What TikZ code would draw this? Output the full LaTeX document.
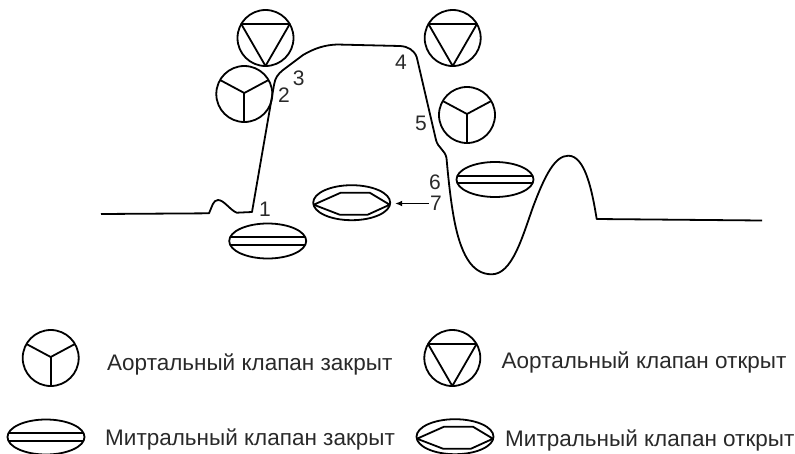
\documentclass[tikz,border=0pt]{standalone}
\usepackage{fontspec}
\setmainfont{Liberation Sans}
\usetikzlibrary{shapes.geometric,arrows.meta}
\definecolor{txt}{gray}{0.16}
\tikzset{
  x=1pt,y=-1pt,
  line/.style={line width=1.8pt,black,line join=round},
  disc/.style={circle,draw,line width=1.8pt,minimum size=56pt,inner sep=0pt,outer sep=0pt},
  oval/.style={ellipse,draw,line width=1.8pt,minimum width=77pt,minimum height=35pt,inner sep=0pt,outer sep=0pt},
  lab/.style={text=txt,font=\fontsize{21}{23}\selectfont,inner sep=0pt,anchor=center},
  leg/.style={text=txt,font=\fontsize{22.5}{25}\selectfont,inner sep=0pt,anchor=base west},
  aclosed/.pic={
    \node[disc] (-c) at (0,0) {};
    \coordinate (-m) at (0,-1);
    \draw[line] (-m) -- (-c.270);
    \draw[line] (-m) -- (-c.30);
    \draw[line] (-m) -- (-c.150);
  },
  aopen/.pic={
    \node[disc] (-c) at (0,0) {};
    \draw[line] (-c.30) -- (-c.150) -- (-c.270) -- cycle;
  },
  mclosed/.pic={
    \node[oval] (-c) at (0,0) {};
    \draw[line] (-37.6,-3.7) -- (37.6,-3.7);
    \draw[line] (-37.6,3.7) -- (37.6,3.7);
  },
  mopen/.pic={
    \node[oval] (-c) at (0,0) {};
    \draw[line] (-38,2) -- (-11,-10) -- (18,-10) -- (38,2) -- (16,12) -- (-12,12) -- cycle;
  }
}
\begin{document}
\begin{tikzpicture}
\useasboundingbox (0,0) rectangle (795,453);
% valves on the curve
\pic (a1) at (265.5,38) {aopen};
\pic (a2) at (244.3,94) {aclosed};
\pic (a3) at (452.7,38) {aopen};
\pic (a4) at (467,115) {aclosed};
\pic (m1) at (267.7,241) {mclosed};
\pic (m2) at (351.7,202.7) {mopen};
\pic (m3) at (495,179.5) {mclosed};
% pressure curve
\draw[line] (101,214) -- (209,213.3)
  .. controls (212,207) and (213,200) .. (218,200)
  .. controls (224,200) and (230,210) .. (236.7,212.7)
  -- (252,212) -- (274,85)
  .. controls (275,78) and (278,74) .. (283,70)
  -- (303,55)
  .. controls (315,48) and (325,45) .. (337,44.5)
  -- (400,46)
  .. controls (408,46.5) and (414,50) .. (416.7,57)
  -- (436,140)
  .. controls (438,148) and (445,150) .. (446.5,158)
  .. controls (448,175) and (450,195) .. (453,213)
  .. controls (460,255) and (472,274.3) .. (491.7,274.3)
  .. controls (512,274.3) and (522,238) .. (533,207)
  .. controls (545,175) and (555,155.7) .. (568.3,155.7)
  .. controls (585,155.7) and (592,190) .. (596.7,219)
  -- (762,220.5);
% numbers
\node[lab] (n1) at (265,209) {1};
\node[lab] (n2) at (284,95) {2};
\node[lab] (n3) at (298.7,78) {3};
\node[lab] (n4) at (401,62) {4};
\node[lab] (n5) at (421,123) {5};
\node[lab] (n6) at (435,182.5) {6};
\node[lab] (n7) at (436,203.5) {7};
\draw[line,line width=1.3pt,-{Latex[length=7pt,width=6pt]},shorten >=5pt,shorten <=1pt] (n7.west) -- (m2-c.east |- n7.west);
% legend
\pic (l1) at (50.7,358) {aclosed};
\pic (l2) at (452.3,358) {aopen};
\pic (l3) at (46,437) {mclosed};
\pic (l4) at (455,436.7) {mopen};
\node[leg] (t1) at (107,370) {Аортальный клапан закрыт};
\node[leg] (t2) at (501.5,368.3) {Аортальный клапан открыт};
\node[leg] (t3) at (105,445.7) {Митральный клапан закрыт};
\node[leg] (t4) at (505,446) {Митральный клапан открыт};
\end{tikzpicture}
\end{document}
